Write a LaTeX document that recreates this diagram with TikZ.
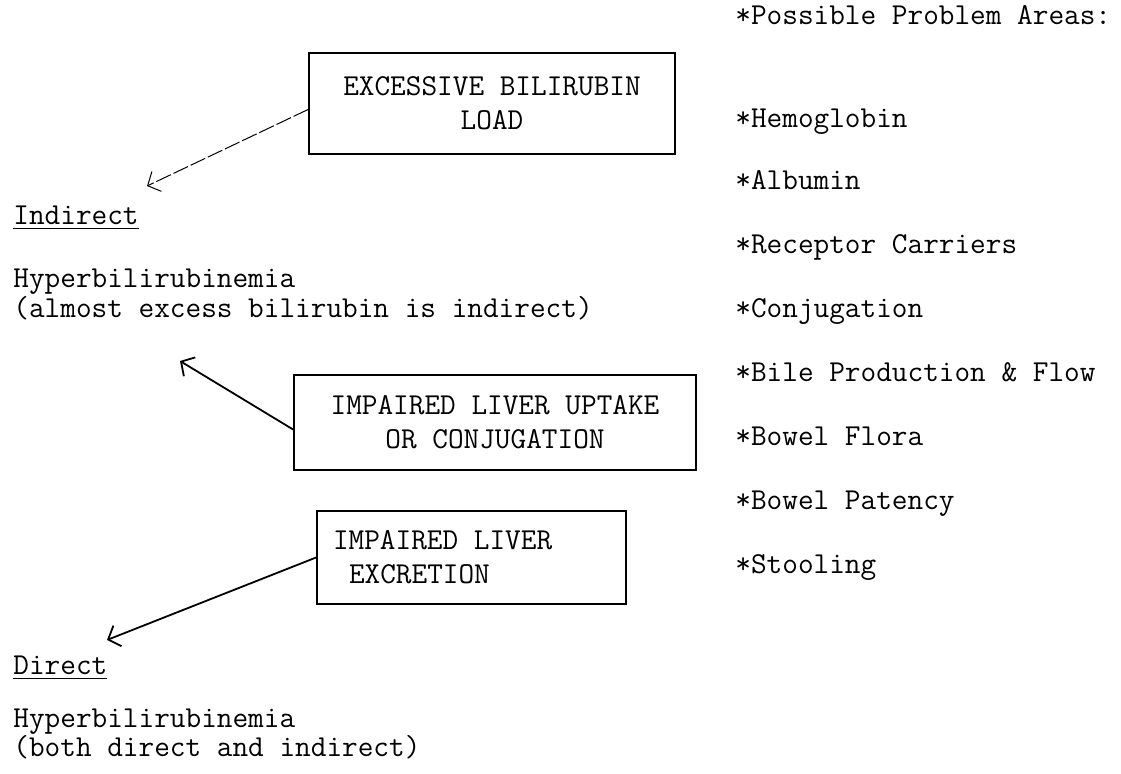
\documentclass[tikz,border=0pt]{standalone}
\usetikzlibrary{arrows.meta}

\tikzset{
  areatext/.style={anchor=base west, inner sep=0pt, font=\ttfamily\fontsize{15.2}{15}\selectfont},
  causebox/.style={draw, line width=0.9pt, align=center, font=\ttfamily\fontsize{15.2}{17}\selectfont},
  pointer/.style={line width=0.9pt, -{Straight Barb[length=5pt,width=11pt]}}
}

\begin{document}
\begin{tikzpicture}[x=0.5pt,y=-0.5pt]
\useasboundingbox (0,0) rectangle (1121,774);

% boxes in the middle
\node[causebox, minimum width=183pt, minimum height=50.5pt] (load) at (492,103.5) {EXCESSIVE BILIRUBIN\\LOAD};
\node[causebox, minimum width=201pt, minimum height=47.5pt] (uptake) at (495,422.5) {IMPAIRED LIVER UPTAKE\\OR CONJUGATION};
\node[causebox, text width=138.5pt, inner xsep=8pt, minimum height=46.5pt, align=left] (excretion) at (471.5,557.5) {\spaceskip=0pt\relax IMPAIRED LIVER\\\hspace*{8pt}EXCRETION};

% left column
\node[areatext] (indirect) at (13,225) {\underline{Indirect}};
\node[areatext] (indhyper) at (13,288) {Hyperbilirubinemia};
\node[areatext] (indnote) at (13,318) {(almost excess bilirubin is indirect)};

\node[areatext] (direct) at (13,675) {\underline{Direct}};
\node[areatext] (dirhyper) at (13,728) {Hyperbilirubinemia};
\node[areatext] (dirnote) at (13,757) {(both direct and indirect)};

% right column
\node[areatext] (areas) at (735,25) {*Possible Problem Areas:};
\node[areatext] (hemo) at (735,128) {*Hemoglobin};
\node[areatext] (albu) at (735,190) {*Albumin};
\node[areatext] (recep) at (735,254) {*Receptor Carriers};
\node[areatext] (conj) at (735,318) {*Conjugation};
\node[areatext] (bile) at (735,382) {*Bile Production \& Flow};
\node[areatext] (flora) at (735,446) {*Bowel Flora};
\node[areatext] (patency) at (735,510) {*Bowel Patency};
\node[areatext] (stool) at (735,574) {*Stooling};

% arrows
\coordinate (indtip) at (147,186);
\coordinate (uptip) at (180,361);
\coordinate (dirtip) at (107,640);

\draw[pointer, line width=0.5pt, dash pattern=on 8pt off 1.5pt] ([yshift=-3pt]load.west) -- (indtip);
\draw[pointer] ([yshift=-3.5pt]uptake.west) -- (uptip);
\draw[pointer] (excretion.west) -- (dirtip);
\end{tikzpicture}
\end{document}
